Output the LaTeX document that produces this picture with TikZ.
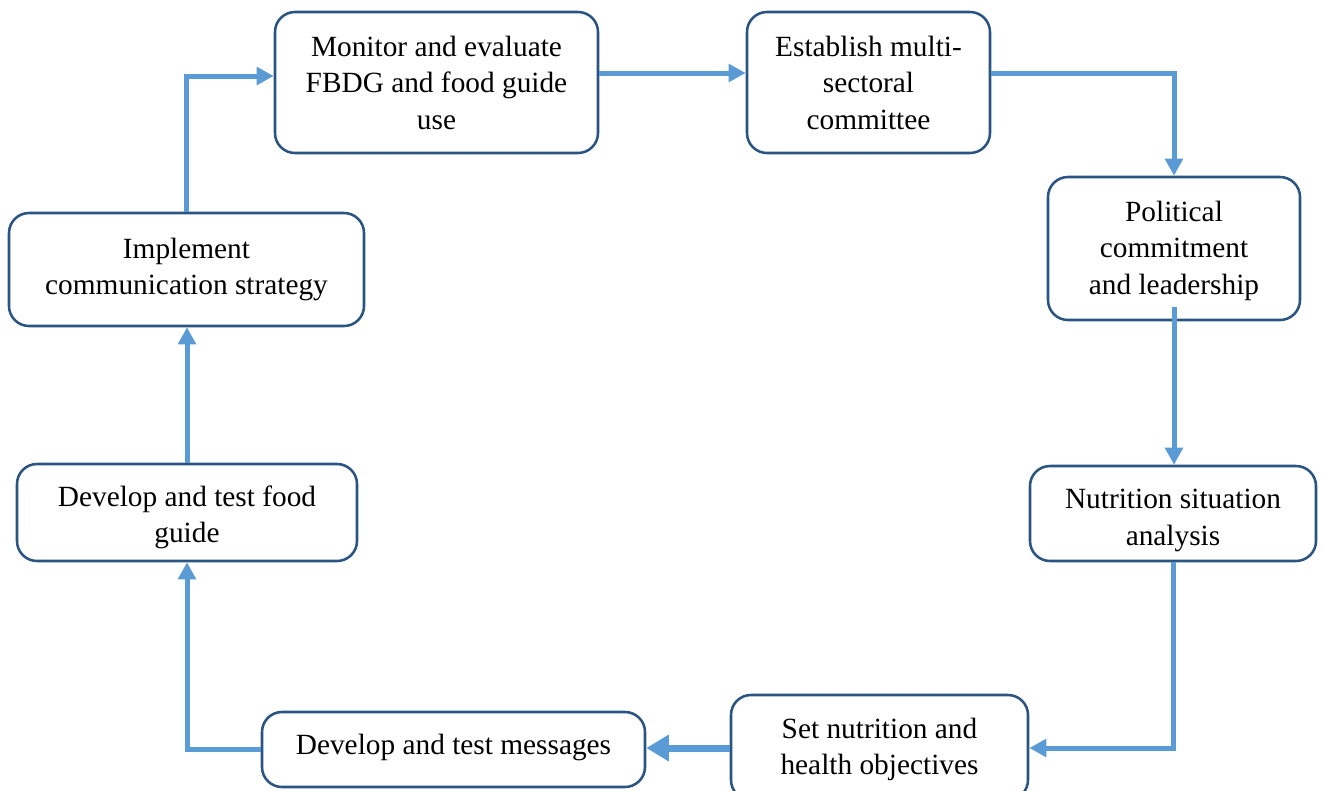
\documentclass[tikz,border=0pt]{standalone}
\usepackage{fontspec}
\setmainfont{Liberation Serif}
\usetikzlibrary{arrows.meta,calc}
\definecolor{boxline}{HTML}{2A5482}
\definecolor{arrowblue}{HTML}{5B9BD5}
\begin{document}
\begin{tikzpicture}[x=0.75pt,y=-0.75pt,
  stepbox/.style={draw=boxline,line width=1.9pt,rounded corners=15pt,fill=white,inner sep=0pt},
  steptext/.style={align=center,font=\fontsize{22}{27.4}\selectfont,inner sep=0pt},
  arr/.style={draw=arrowblue,line width=3.75pt,-{Triangle[length=12.75pt,width=13pt]}},
  arrthick/.style={draw=arrowblue,line width=5.25pt,-{Triangle[length=17pt,width=19pt]}}]
\useasboundingbox (0,0) rectangle (1322,790);
\node[stepbox,minimum width=242.25pt,minimum height=105.75pt] (A) at (436.5,82.5) {};
\node[steptext] (At) at (A.center) {Monitor and evaluate\\FBDG and food guide\\use};
\node[stepbox,minimum width=182.25pt,minimum height=105.75pt] (B) at (868.5,82.5) {};
\node[steptext] (Bt) at (B.center) {Establish multi-\\sectoral\\committee};
\node[stepbox,minimum width=189pt,minimum height=107.25pt] (C) at (1174,248.5) {};
\node[steptext] (Ct) at ([yshift=-1.5pt]C.center) {Political\\commitment\\and leadership};
\node[stepbox,minimum width=214.5pt,minimum height=71.25pt] (D) at (1173,513.5) {};
\node[steptext] (Dt) at ([yshift=-5.25pt]D.center) {Nutrition situation\\analysis};
\node[stepbox,minimum width=222.75pt,minimum height=78.75pt] (E) at (879.5,747.5) {};
\node[steptext] (Et) at ([yshift=-1.5pt]E.center) {Set nutrition and\\health objectives};
\node[stepbox,minimum width=287.25pt,minimum height=56.25pt] (F) at (453.5,749.5) {};
\node[steptext] (Ft) at ([yshift=1.5pt]F.center) {Develop and test messages};
\node[stepbox,minimum width=255pt,minimum height=72.75pt] (G) at (187,512.5) {};
\node[steptext] (Gt) at ([yshift=-3.75pt]G.center) {Develop and test food\\guide};
\node[stepbox,minimum width=266.25pt,minimum height=84.75pt] (H) at (186.5,269.5) {};
\node[steptext] (Ht) at (H.center) {Implement\\communication strategy};
\draw[arr] (A.east |- 0,73) -- (B.west |- 0,73);
\draw[arr] (B.east |- 0,73) -| (C.north);
\draw[arr] (C.south |- 0,307) -- (C.south |- D.north);
\draw[arr] (D.south) |- (E.east |- 0,748);
\draw[arrthick] (E.west |- 0,748) -- (F.east |- 0,748);
\draw[arr] (F.west |- 0,749) -| (G.south);
\draw[arr] (G.north) -- (G.north |- H.south);
\draw[arr] (H.north) |- (A.west |- 0,76);
\end{tikzpicture}
\end{document}
